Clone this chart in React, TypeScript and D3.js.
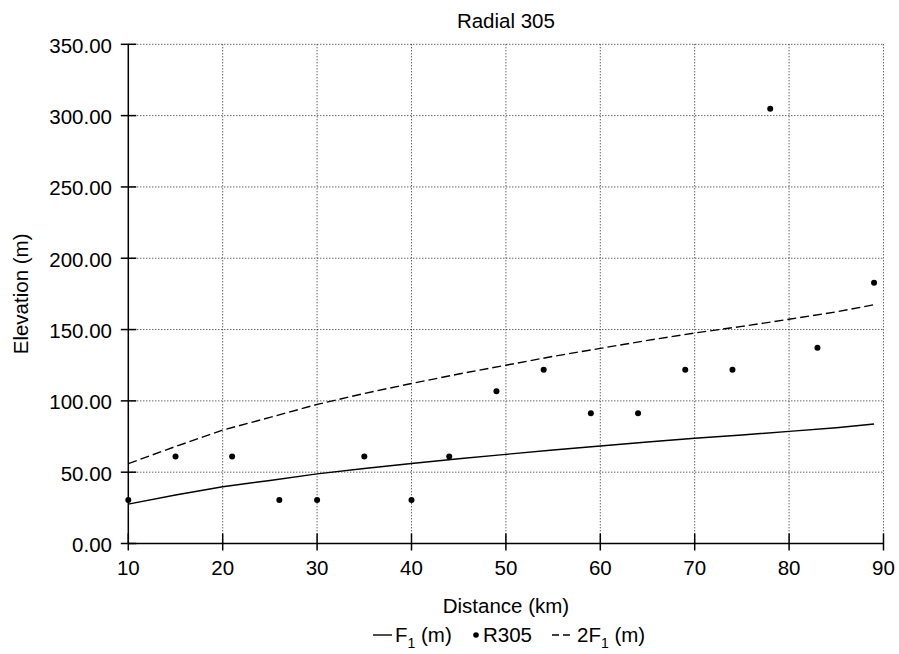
import React from "react";
import * as d3 from "d3";

const title = "Radial 305";
const xLabel = "Distance (km)";
const yLabel = "Elevation (m)";

const xTicks = [10, 20, 30, 40, 50, 60, 70, 80, 90];
const yTicks = [0, 50, 100, 150, 200, 250, 300, 350];

// Fresnel zone curves
const fDist = [10, 15, 20, 25, 30, 35, 40, 45, 50, 55, 60, 65, 70, 75, 80, 85, 89];
const f1Values = [27.6, 34, 39.8, 44.2, 48.8, 52.6, 56.1, 59.4, 62.5, 65.6, 68.4, 71.2, 73.8, 76.1, 78.6, 81.2, 83.8];
const f2Values = [56, 68, 79.5, 88.4, 97.5, 105.2, 112.2, 118.8, 125, 131.2, 136.8, 142.4, 147.6, 152.2, 157.2, 162.4, 167.4];

// R305 terrain points
const rDist = [10, 15, 21, 26, 30, 35, 40, 44, 49, 54, 59, 64, 69, 74, 78, 83, 89];
const rElev = [30.5, 61, 61, 30.5, 30.5, 61, 30.5, 61, 106.7, 121.9, 91.4, 91.4, 121.9, 121.9, 304.8, 137.2, 182.9];

const W = 899;
const H = 654;
const left = 128.3;
const right = 883.5;
const top = 44.3;
const bottom = 543.5;
const FONT = "'Liberation Sans', Arial, Helvetica, sans-serif";

export default function App() {
  const x = d3.scaleLinear().domain([10, 90]).range([left, right]);
  const y = d3.scaleLinear().domain([0, 350]).range([bottom, top]);

  const lineGen = d3
    .line<number>()
    .x((_, i) => x(fDist[i]))
    .y((d) => y(d));

  const f1Path = lineGen(f1Values) || "";
  const f2Path = lineGen(f2Values) || "";

  const gridColor = "#222";

  return (
    <svg
      width={W}
      height={H}
      style={{ position: "absolute", left: 0, top: 0, background: "#fff" }}
      fontFamily={FONT}
    >
      <rect x={0} y={0} width={W} height={H} fill="#fff" />
      {/* grid */}
      {xTicks.slice(1).map((t) => (
        <line
          key={"gx" + t}
          x1={x(t)}
          x2={x(t)}
          y1={top}
          y2={bottom}
          stroke={gridColor}
          strokeWidth={1}
          strokeDasharray="1,2"
        />
      ))}
      {yTicks.slice(1).map((t) => (
        <line
          key={"gy" + t}
          x1={left}
          x2={right}
          y1={y(t)}
          y2={y(t)}
          stroke={gridColor}
          strokeWidth={1}
          strokeDasharray="1,2"
        />
      ))}

      {/* axes */}
      <line x1={left} x2={left} y1={top} y2={bottom} stroke="#000" strokeWidth={1.5} />
      <line x1={left} x2={right} y1={bottom} y2={bottom} stroke="#000" strokeWidth={1.5} />
      {yTicks.map((t) => (
        <g key={"yt" + t}>
          <line x1={left - 7.5} x2={left + 8} y1={y(t)} y2={y(t)} stroke="#000" strokeWidth={1.5} />
          <text x={112} y={y(t) + 8.5} textAnchor="end" fontSize={20.5} fill="#000">
            {t.toFixed(2)}
          </text>
        </g>
      ))}
      {xTicks.map((t) => (
        <g key={"xt" + t}>
          <line x1={x(t)} x2={x(t)} y1={bottom - 10} y2={bottom + 7} stroke="#000" strokeWidth={1.5} />
          <text x={x(t)} y={575} textAnchor="middle" fontSize={20.5} fill="#000">
            {t}
          </text>
        </g>
      ))}

      {/* series */}
      <path d={f1Path} fill="none" stroke="#000" strokeWidth={1.4} />
      <path d={f2Path} fill="none" stroke="#000" strokeWidth={1.4} strokeDasharray="9,4" />
      {rDist.map((d, i) => (
        <circle key={"p" + i} cx={x(d)} cy={y(rElev[i])} r={3} fill="#000" />
      ))}

      {/* title and labels */}
      <text x={(left + right) / 2} y={28.3} textAnchor="middle" fontSize={20.5} fill="#000">
        {title}
      </text>
      <text x={(left + right) / 2} y={613.3} textAnchor="middle" fontSize={20.5} fill="#000">
        {xLabel}
      </text>
      <text
        transform={`translate(27.5, ${(top + bottom) / 2}) rotate(-90)`}
        textAnchor="middle"
        fontSize={20.5}
        fill="#000"
      >
        {yLabel}
      </text>

      {/* legend */}
      <g>
        <line x1={373} x2={392} y1={635} y2={635} stroke="#000" strokeWidth={1.4} />
        <text x={395} y={641.7} fontSize={20.5} fill="#000">
          F<tspan dy={6} fontSize={14}>1</tspan>
          <tspan dy={-6}> (m)</tspan>
        </text>
        <circle cx={476} cy={635} r={2.8} fill="#000" />
        <text x={483} y={641.7} fontSize={20.5} fill="#000">
          R305
        </text>
        <line x1={552} x2={573} y1={635} y2={635} stroke="#000" strokeWidth={1.4} strokeDasharray="7,4" />
        <text x={577} y={641.7} fontSize={20.5} fill="#000">
          2F<tspan dy={6} fontSize={14}>1</tspan>
          <tspan dy={-6}> (m)</tspan>
        </text>
      </g>
    </svg>
  );
}
